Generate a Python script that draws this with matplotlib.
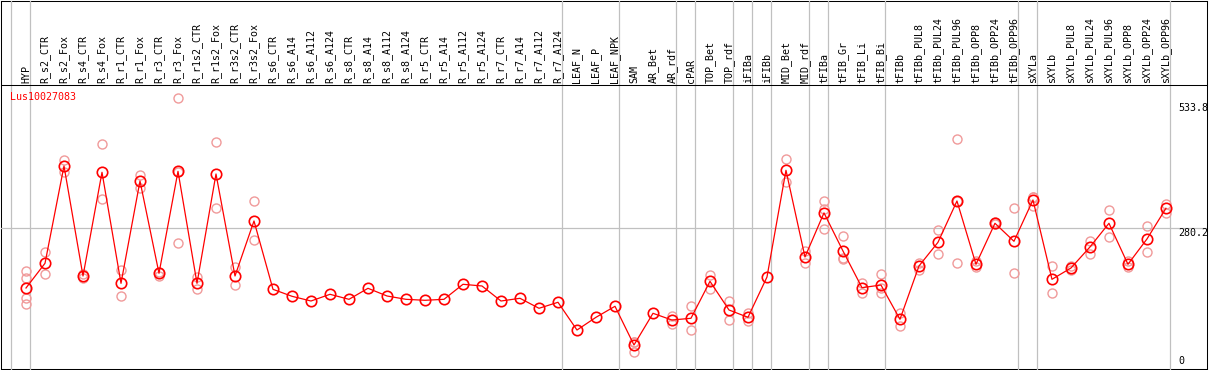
import matplotlib
matplotlib.use("Agg")
import matplotlib.pyplot as plt

# colonnes (conditions)
labels = [
    "HYP", "R_s2_CTR", "R_s2_Fox", "R_s4_CTR", "R_s4_Fox", "R_r1_CTR", "R_r1_Fox",
    "R_r3_CTR", "R_r3_Fox", "R_r1s2_CTR", "R_r1s2_Fox", "R_r3s2_CTR", "R_r3s2_Fox",
    "R_s6_CTR", "R_s6_A14", "R_s6_A112", "R_s6_A124", "R_s8_CTR", "R_s8_A14",
    "R_s8_A112", "R_s8_A124", "R_r5_CTR", "R_r5_A14", "R_r5_A112", "R_r5_A124",
    "R_r7_CTR", "R_r7_A14", "R_r7_A112", "R_r7_A124", "LEAF_N", "LEAF_P", "LEAF_NPK",
    "SAM", "AR_Bet", "AR_rdf", "cPAR", "TOP_Bet", "TOP_rdf", "iFIBa", "iFIBb",
    "MID_Bet", "MID_rdf", "tFIBa", "tFIB_Gr", "tFIB_Li", "tFIB_Bi", "tFIBb",
    "tFIBb_PUL8", "tFIBb_PUL24", "tFIBb_PUL96", "tFIBb_OPP8", "tFIBb_OPP24",
    "tFIBb_OPP96", "sXYLa", "sXYLb", "sXYLb_PUL8", "sXYLb_PUL24", "sXYLb_PUL96",
    "sXYLb_OPP8", "sXYLb_OPP24", "sXYLb_OPP96",
]

# taille des groupes (séparateurs verticaux)
group_sizes = [1, 28, 3, 3, 1, 2, 1, 1, 2, 1, 3, 7, 1, 7]

gene = "Lus10027083"

# moyennes
means = [
    163.7, 211.9, 401.7, 187.1, 389.4, 172.8, 372.4, 192.4, 391.3, 172.8, 386.1,
    187.1, 294.4, 161.1, 147.5, 138.3, 151.4, 141.6, 163.1, 148.1, 141.6, 139.7,
    141.6, 170.9, 167.6, 138.3, 143.6, 124.1, 135.8, 81.7, 106.5, 128.0, 52.5,
    114.3, 101.2, 104.6, 176.7, 120.8, 106.5, 185.1, 393.3, 224.2, 310.2, 235.9,
    164.3, 169.5, 102.6, 206.6, 252.8, 333.4, 209.9, 289.9, 254.8, 335.4, 180.6,
    202.7, 243.7, 289.9, 209.9, 259.3, 319.2,
]

# réplicats
replicates = [
    [196.8, 182.6, 143.6, 132.5], [233.9, 191.0], [413.4, 390.6], [191.0, 182.6],
    [444.7, 336.7], [198.9, 147.5], [384.1, 359.3], [195.5, 187.7],
    [533.8, 250.9, 389.4], [184.5, 161.1], [449.1, 319.2], [205.2, 168.9],
    [332.8, 257.3],
    [], [], [], [], [], [], [], [], [], [], [], [], [], [], [], [], [], [], [],
    [59.0, 59.2, 39.4], [], [109.6, 93.4], [128.6, 81.2], [189.0, 162.3],
    [137.7, 100.7], [115.5, 99.9], [], [414.8, 370.5], [235.9, 213.0],
    [333.4, 278.2, 318.2], [265.1, 219.7, 222.9], [172.8, 154.5],
    [191.0, 154.5, 163.0], [115.5, 90.1], [213.0, 198.8], [276.2, 230.6],
    [454.4, 211.9, 333.8], [215.8, 205.0], [292.0, 288.0], [319.2, 192.4],
    [341.8, 323.7, 340.7], [206.6, 153.3], [198.8, 206.6], [256.0, 230.6],
    [315.8, 262.6], [216.9, 205.2], [284.0, 233.3], [328.1, 310.0],
]

tick_values = [533.8, 280.2, 0]
tick_labels = ["533.8", "280.2", "0"]

W, H = 1209, 370
fig = plt.figure(figsize=(W / 100, H / 100), dpi=100)

# cadre général
frame = fig.add_axes([1 / W, 1 / H, 1206 / W, 368 / H])
frame.set_xticks([])
frame.set_yticks([])
for s in frame.spines.values():
    s.set_linewidth(0.75)

ax = fig.add_axes([1 / W, 1 / H, 1206 / W, 284 / H])
ax.patch.set_alpha(0)
ax.set_xlim(-1.316, 62.16)
ax.set_ylim(5.66, 559.7)
ax.set_xticks([])
ax.set_yticks([])
for s in ax.spines.values():
    s.set_visible(False)
ax.spines["top"].set_visible(True)
ax.spines["top"].set_linewidth(0.75)

xs = list(range(len(labels)))
top_frac = 368 / 284

# séparateurs de groupes
pos = 0
ax.axvline(pos - 0.79, ymin=0, ymax=top_frac, color="#c0c0c0", lw=0.9, clip_on=False, zorder=1)
for g in group_sizes:
    pos += g
    ax.axvline(pos - 0.79, ymin=0, ymax=top_frac, color="#c0c0c0", lw=0.9, clip_on=False, zorder=1)

ax.axhline(tick_values[1], color="#c0c0c0", lw=0.9, zorder=1)

# réplicats
for x, reps in zip(xs, replicates):
    if reps:
        ax.plot([x] * len(reps), reps, "o", ms=6.5, mfc="none", mec="#f09a9a", mew=1.0, zorder=2)

# moyennes
ax.plot(xs, means, "-", color="red", lw=0.9, zorder=3)
ax.plot(xs, means, "o", ms=7.5, mfc="none", mec="red", mew=1.2, zorder=4)

# noms des colonnes
font = "DejaVu Sans Mono"
for x, lab in zip(xs, labels):
    ax.annotate(lab, xy=(x, 1.0), xycoords=("data", "axes fraction"),
                xytext=(0, 2), textcoords="offset pixels", rotation=90,
                ha="center", va="bottom", fontsize=7.2, family=font, color="black")

ax.annotate(gene, xy=(9 / 1206, (369 - 97) / 284), xycoords="axes fraction",
            ha="left", va="center", fontsize=7.2, family=font, color="red")

# étiquettes de l'échelle à droite
offsets = [(-5, "top"), (0, "top"), (6, "bottom")]
for v, lab, (dy, va) in zip(tick_values, tick_labels, offsets):
    ax.annotate(lab, xy=(1177 / 1206, v), xycoords=("axes fraction", "data"),
                xytext=(0, dy), textcoords="offset pixels",
                ha="left", va=va, fontsize=7.2, family=font, color="black",
                annotation_clip=False)

fig.savefig("out.png", dpi=100)
